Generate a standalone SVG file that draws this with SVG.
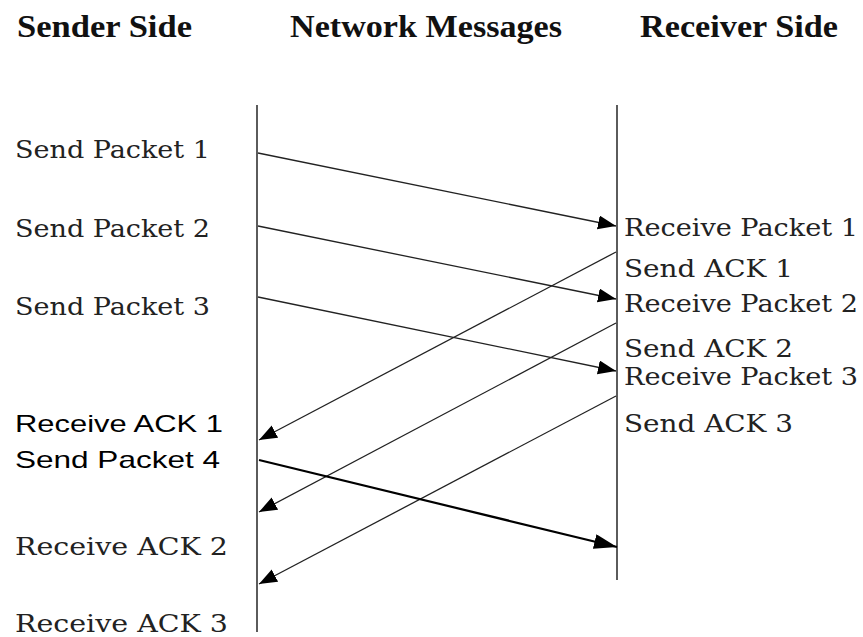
<svg xmlns="http://www.w3.org/2000/svg" width="863" height="637" viewBox="0 0 863 637">
<defs>
<style>
.hdr{font-family:"Liberation Serif","DejaVu Serif",serif;font-weight:bold;font-size:31px;fill:#111}
.ser{font-family:"DejaVu Serif","Liberation Serif",serif;font-size:24px;fill:#222}
.san{font-family:"Liberation Sans",Arial,sans-serif;font-size:24px;fill:#000}
.life{stroke:#333;stroke-width:1.6;fill:none}
.msg{stroke:#222;stroke-width:1.3;fill:none;marker-end:url(#ah)}
.msg4{stroke:#000;stroke-width:2.2;fill:none;marker-end:url(#ah4)}
</style>
<marker id="ah" markerUnits="userSpaceOnUse" markerWidth="20" markerHeight="16" refX="18" refY="7" orient="auto">
<path d="M0,0 L18,7 L0,14 z" fill="#000"/>
</marker>
<marker id="ah4" markerUnits="userSpaceOnUse" markerWidth="24" markerHeight="16" refX="23" refY="7.5" orient="auto">
<path d="M0,0 L23,7.5 L0,15 z" fill="#000"/>
</marker>
</defs>
<g id="headers">
<text class="hdr" x="17" y="37" textLength="175" lengthAdjust="spacingAndGlyphs">Sender Side</text>
<text class="hdr" x="290" y="37" textLength="272" lengthAdjust="spacingAndGlyphs">Network Messages</text>
<text class="hdr" x="640" y="37" textLength="198" lengthAdjust="spacingAndGlyphs">Receiver Side</text>
</g>
<g id="sender">
<line class="life" x1="257" y1="105" x2="257" y2="632"/>
<text class="ser" x="15" y="158" textLength="195" lengthAdjust="spacingAndGlyphs">Send Packet 1</text>
<text class="ser" x="15" y="237" textLength="195" lengthAdjust="spacingAndGlyphs">Send Packet 2</text>
<text class="ser" x="15" y="315" textLength="195" lengthAdjust="spacingAndGlyphs">Send Packet 3</text>
<text class="san" x="15" y="432" textLength="208" lengthAdjust="spacingAndGlyphs">Receive ACK 1</text>
<text class="san" x="15" y="468" textLength="205" lengthAdjust="spacingAndGlyphs">Send Packet 4</text>
<text class="ser" x="15" y="555" textLength="213" lengthAdjust="spacingAndGlyphs">Receive ACK 2</text>
<text class="ser" x="15" y="632" textLength="213" lengthAdjust="spacingAndGlyphs">Receive ACK 3</text>
</g>
<g id="receiver">
<line class="life" x1="617" y1="105" x2="617" y2="580"/>
<text class="ser" x="624" y="236" textLength="234" lengthAdjust="spacingAndGlyphs">Receive Packet 1</text>
<text class="ser" x="624" y="277" textLength="169" lengthAdjust="spacingAndGlyphs">Send ACK 1</text>
<text class="ser" x="624" y="312" textLength="234" lengthAdjust="spacingAndGlyphs">Receive Packet 2</text>
<text class="ser" x="624" y="357" textLength="169" lengthAdjust="spacingAndGlyphs">Send ACK 2</text>
<text class="ser" x="624" y="385" textLength="234" lengthAdjust="spacingAndGlyphs">Receive Packet 3</text>
<text class="ser" x="624" y="432" textLength="169" lengthAdjust="spacingAndGlyphs">Send ACK 3</text>
</g>
<g id="connectors">
<line class="msg" x1="258" y1="153" x2="616" y2="226"/>
<line class="msg" x1="258" y1="226" x2="616" y2="299"/>
<line class="msg" x1="258" y1="297" x2="616" y2="371"/>
<line class="msg" x1="616" y1="252" x2="259" y2="440"/>
<line class="msg" x1="616" y1="323" x2="259" y2="512"/>
<line class="msg" x1="616" y1="396" x2="259" y2="584"/>
<line class="msg4" x1="259" y1="460" x2="617" y2="547"/>
</g>
</svg>
